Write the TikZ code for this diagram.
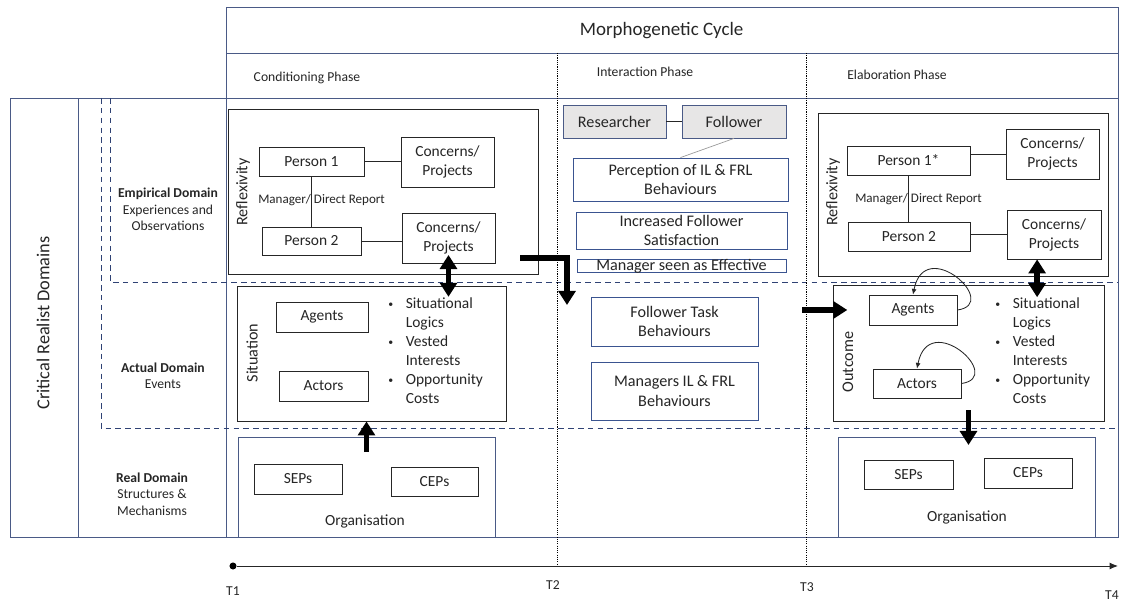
\documentclass[tikz,border=0pt]{standalone}
\usepackage{fontspec}
\setmainfont{Carlito}
\usepackage{tikz}
\usetikzlibrary{arrows.meta}
\definecolor{FrameBlue}{HTML}{4A5A86}
\definecolor{DashBlue}{HTML}{2F4274}
\definecolor{BoxBlue}{HTML}{3A5490}
\definecolor{BoxBlack}{HTML}{262626}
\definecolor{ChipGrey}{HTML}{E7E6E6}
\definecolor{LinkGrey}{HTML}{9A9A9A}

\newcommand{\smallbullet}{\raisebox{0.8pt}{\fontsize{7}{8}\selectfont\textbullet}}
\newcommand{\factorlist}{%
  \begin{tabular}{@{}l@{\hspace{9pt}}l@{}}
    \smallbullet & Situational\\
                 & Logics\\
    \smallbullet & Vested\\
                 & Interests\\
    \smallbullet & Opportunity\\
                 & Costs
  \end{tabular}}

\begin{document}
\begin{tikzpicture}[
    frame/.style={draw=FrameBlue, line width=0.6pt},
    domainline/.style={draw=DashBlue, line width=0.6pt, dash pattern=on 4pt off 3pt},
    phaseline/.style={draw=black, line width=0.5pt, dash pattern=on 0.8pt off 0.8pt},
    plainbox/.style={draw=BoxBlack, fill=white, line width=0.6pt, inner sep=0pt, align=center, text=BoxBlack, font=\fontsize{11}{13.5}\selectfont},
    bluebox/.style={draw=BoxBlue, fill=white, line width=0.6pt, inner sep=0pt, align=center, text=BoxBlack, font=\fontsize{11.5}{14}\selectfont},
    chip/.style={draw=FrameBlue, fill=ChipGrey, line width=0.6pt, inner sep=0pt, text=BoxBlack, font=\fontsize{11.5}{14}\selectfont},
    orgbox/.style={draw=FrameBlue, fill=white, line width=0.6pt, inner sep=0pt},
    boxtext/.style={text=BoxBlack, font=\fontsize{11}{13.5}\selectfont},
    listtext/.style={text=BoxBlack, inner sep=0pt, font=\fontsize{11}{13.5}\selectfont},
    sidelabel/.style={rotate=90, text=BoxBlack, font=\fontsize{11.5}{14}\selectfont},
    headtext/.style={text=BoxBlack, font=\fontsize{9.7}{11.7}\selectfont},
    domaintext/.style={text=BoxBlack, align=center, font=\fontsize{9.7}{11.7}\selectfont},
    tielabel/.style={text=BoxBlack, inner sep=0pt, font=\fontsize{9.3}{11}\selectfont},
    tie/.style={draw=BoxBlack, line width=0.6pt},
    bigarrow/.style={line width=4pt, -{Triangle[width=12pt,length=10pt]}},
    bigboth/.style={line width=4pt, {Triangle[width=12pt,length=10pt]}-{Triangle[width=12pt,length=10pt]}},
    selfarc/.style={draw=BoxBlack, line width=0.6pt, -{Latex[length=4pt,width=3.5pt]}}
  ]
  \useasboundingbox (0,0) rectangle (28.05,15.075);

  \draw[frame] (5.65,13.75) rectangle (27.95,14.88);
  \draw[frame] (5.65,12.625) rectangle (27.95,13.75);
  \draw[frame] (0.25,1.65) rectangle (27.95,12.625);
  \draw[frame] (1.95,1.65) -- (1.95,12.625);
  \draw[frame] (5.65,1.65) -- (5.65,12.625);
  \draw[domainline] (2.525,12.625) -- (2.525,4.375) -- (27.95,4.375);
  \draw[domainline] (2.75,12.625) -- (2.75,8.025) -- (27.95,8.025);
  \draw[phaseline] (13.925,13.75) -- (13.925,0.925);
  \draw[phaseline] (20.15,13.75) -- (20.15,0.925);

  \node[text=BoxBlack, font=\fontsize{13.5}{16}\selectfont] (cycle) at (16.54,14.3) {Morphogenetic Cycle};
  \node[headtext] (condph) at (7.675,13.125) {Conditioning Phase};
  \node[headtext] (interph) at (16.125,13.275) {Interaction Phase};
  \node[headtext] (elabph) at (22.425,13.2) {Elaboration Phase};

  \node[rotate=90, text=BoxBlack, font=\fontsize{13}{15}\selectfont] (crdom) at (1.075,7.0) {Critical Realist Domains};
  \node[domaintext] (empdom) at (4.2,9.84) {\textbf{Empirical Domain}\\Experiences and\\Observations};
  \node[domaintext] (actdom) at (4.075,5.675) {\textbf{Actual Domain}\\Events};
  \node[domaintext] (realdom) at (3.8,2.725) {\textbf{Real Domain}\\Structures \&\\Mechanisms};

  % conditioning
  \node[plainbox, minimum width=7.75cm, minimum height=4.125cm] (refl1) at (9.575,10.2875) {};
  \node[sidelabel] (reflab1) at (6.075,10.275) {Reflexivity};
  \node[plainbox, minimum width=2.625cm, minimum height=0.725cm] (p1a) at (7.7875,11.0375) {Person 1};
  \node[plainbox, minimum width=2.475cm, minimum height=0.7cm] (p2a) at (7.7875,9.05) {Person 2};
  \node[plainbox, minimum width=2.325cm, minimum height=1.25cm] (cp1a) at (11.1875,11.025) {Concerns/\\Projects};
  \node[plainbox, minimum width=2.325cm, minimum height=1.25cm] (cp2a) at (11.2125,9.125) {Concerns/\\Projects};
  \draw[tie] (p1a) -- (p2a);
  \node[tielabel, anchor=west] (tie1) at (6.45,10.075) {Manager/ Direct Report};
  \draw[tie] (p1a.east) -- (p1a.east -| cp1a.west);
  \draw[tie] (p2a.east) -- (p2a.east -| cp2a.west);

  \node[plainbox, minimum width=6.725cm, minimum height=3.375cm] (sit) at (9.2875,6.2375) {};
  \node[sidelabel] (sitlab) at (6.3,6.25) {Situation};
  \node[plainbox, minimum width=2.3cm, minimum height=0.75cm] (ag1) at (8.05,7.15) {Agents};
  \node[plainbox, minimum width=2.225cm, minimum height=0.75cm] (ac1) at (8.0875,5.425) {Actors};
  \node[listtext, anchor=west] (fac1) at (9.7,6.275) {\factorlist};

  \node[orgbox, minimum width=6.425cm, minimum height=2.5cm] (org1) at (9.1625,2.9) {};
  \node[plainbox, minimum width=2.2cm, minimum height=0.75cm] (sep1) at (7.45,3.1) {SEPs};
  \node[plainbox, minimum width=2.175cm, minimum height=0.725cm] (cep1) at (10.8625,3.0375) {CEPs};
  \node[boxtext] (orglab1) at (9.125,2.05) {Organisation};

  \draw[bigboth] ([yshift=6pt]cp2a.south) -- ([yshift=-8pt]cp2a.south |- sit.north);
  \draw[bigarrow] ([yshift=-11pt]org1.north) -- (org1.north |- sit.south);

  % interaction
  \node[chip, minimum width=2.575cm, minimum height=0.825cm] (res) at (15.3625,12.0375) {Researcher};
  \node[chip, minimum width=2.6cm, minimum height=0.825cm] (fol) at (18.35,12.0375) {Follower};
  \draw[tie] (res) -- (fol);
  \node[bluebox, minimum width=5.375cm, minimum height=1.075cm] (perc) at (17.0125,10.5875) {Perception of IL \& FRL\\Behaviours};
  \draw[LinkGrey, line width=0.5pt] (fol.south) -- (perc.north);
  \node[bluebox, minimum width=5.275cm, minimum height=0.925cm] (sat) at (17.0375,9.3125) {Increased Follower\\Satisfaction};
  \node[bluebox, minimum width=5.225cm, minimum height=0.325cm, text height=8.2pt, text depth=0.6pt] (eff) at (17.0375,8.4375) {Manager seen as Effective};
  \node[bluebox, minimum width=4.175cm, minimum height=1.225cm] (ftb) at (16.8625,7.0375) {Follower Task\\Behaviours};
  \node[bluebox, minimum width=4.175cm, minimum height=1.45cm] (mlb) at (16.8625,5.3) {Managers IL \& FRL\\Behaviours};

  \coordinate (elbowin) at (13.0,8.625);
  \coordinate (elbowout) at (14.175,7.45);
  \draw[bigarrow, line width=3.8pt] (elbowin) -| (elbowout);

  % elaboration
  \node[plainbox, minimum width=7.25cm, minimum height=4.075cm] (refl2) at (24.075,10.2125) {};
  \node[sidelabel] (reflab2) at (20.825,10.275) {Reflexivity};
  \node[plainbox, minimum width=3.075cm, minimum height=0.725cm] (p1b) at (22.7125,11.0625) {Person 1*};
  \node[plainbox, minimum width=3.05cm, minimum height=0.725cm] (p2b) at (22.725,9.1625) {Person 2};
  \node[plainbox, minimum width=2.325cm, minimum height=1.25cm] (cp1b) at (26.3125,11.225) {Concerns/\\Projects};
  \node[plainbox, minimum width=2.35cm, minimum height=1.225cm] (cp2b) at (26.35,9.2125) {Concerns/\\Projects};
  \draw[tie] (p1b.south) -- (p1b.south |- p2b.north);
  \node[tielabel, anchor=west] (tie2) at (21.375,10.1) {Manager/ Direct Report};
  \draw[tie] (cp1b.west) -- (cp1b.west -| p1b.east);
  \draw[tie] (cp2b.west) -- (cp2b.west -| p2b.east);

  \node[plainbox, minimum width=6.775cm, minimum height=3.4cm] (out) at (24.2125,6.25) {};
  \node[sidelabel] (outlab) at (21.2,6.025) {Outcome};
  \node[plainbox, minimum width=2.2cm, minimum height=0.75cm] (ag2) at (22.825,7.325) {Agents};
  \node[plainbox, minimum width=2.2cm, minimum height=0.725cm] (ac2) at (22.925,5.4875) {Actors};
  \node[listtext, anchor=west] (fac2) at (24.875,6.275) {\factorlist};
  \draw[selfarc] (ag2.east) .. controls +(1.1,0.15) and +(0.3,1.5) .. (ag2.north);
  \draw[selfarc] (ac2.east) .. controls +(1.1,0.15) and +(0.3,1.5) .. (ac2.north);

  \node[orgbox, minimum width=6.425cm, minimum height=2.5cm] (org2) at (24.1625,2.9) {};
  \node[plainbox, minimum width=2.225cm, minimum height=0.725cm] (sep2) at (22.7125,3.2125) {SEPs};
  \node[plainbox, minimum width=2.2cm, minimum height=0.75cm] (cep2) at (25.7,3.25) {CEPs};
  \node[boxtext] (orglab2) at (24.175,2.15) {Organisation};

  \draw[bigboth] ([xshift=-12pt]cp2b.south) -- ([xshift=-12pt,yshift=-9pt]cp2b.south |- out.north);
  \coordinate (intoout) at (20.05,7.325);
  \draw[bigarrow] (intoout) -- ([xshift=10.5pt]intoout -| out.west);
  \draw[bigarrow] ([yshift=8pt]out.south) -- ([yshift=-6pt]out.south |- org2.north);

  % time line
  \node[fill=black, circle, inner sep=0pt, minimum size=5pt] (t1dot) at (5.825,0.925) {};
  \coordinate (tend) at (27.95,0.925);
  \draw[BoxBlack, line width=0.7pt, -{Latex[length=6pt,width=5pt]}] (t1dot) -- (tend);
  \node[headtext] (t1) at (5.825,0.3) {T1};
  \node[headtext] (t2) at (13.825,0.45) {T2};
  \node[headtext] (t3) at (20.175,0.4) {T3};
  \node[headtext] (t4) at (27.8,0.2) {T4};
\end{tikzpicture}
\end{document}
